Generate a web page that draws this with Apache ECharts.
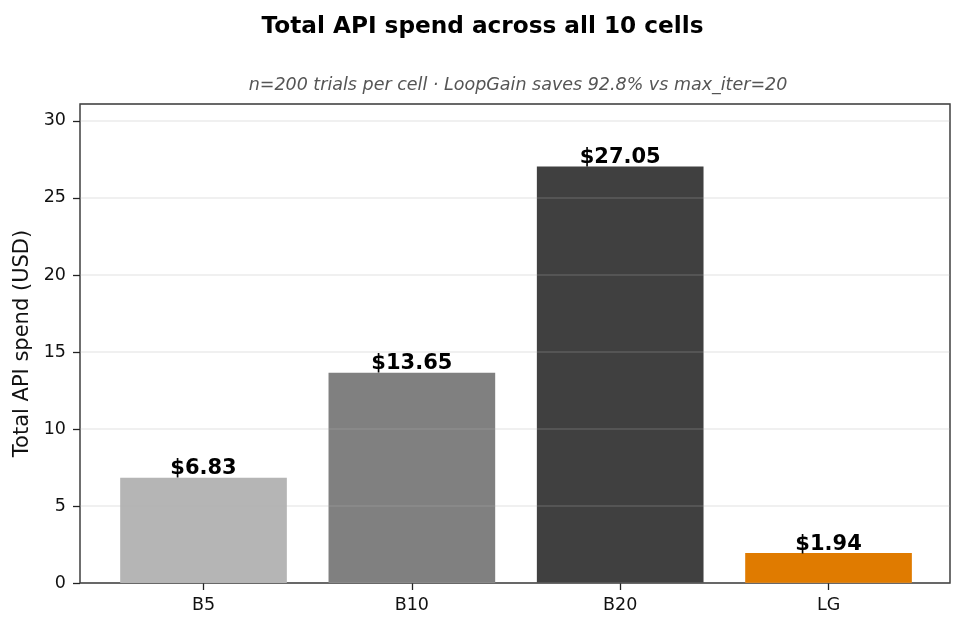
<!DOCTYPE html>
<html>
<head>
<meta charset="utf-8">
<script src="https://cdn.jsdelivr.net/npm/echarts@6/dist/echarts.min.js"></script>
<style>
  html, body { margin: 0; padding: 0; background: #fff; }
  #chart { width: 965px; height: 630px; }
</style>
</head>
<body>
<div id="chart"></div>
<script>
const categories = ["B5", "B10", "B20", "LG"];
const spend = [6.83, 13.65, 27.05, 1.94];
const barColors = ["#b5b5b5", "#808080", "#404040", "#e07b00"];

const font = "DejaVu Sans";
const yMax = 31.1;

const chart = echarts.init(document.getElementById("chart"));

const option = {
  backgroundColor: "#fff",
  animation: false,
  textStyle: { fontFamily: font },
  title: [
    {
      text: "Total API spend across all 10 cells",
      left: "center",
      top: 10,
      textStyle: { fontFamily: font, fontSize: 23.2, fontWeight: "bold", color: "#000" },
    },
    {
      text: "n=200 trials per cell · LoopGain saves 92.8% vs max_iter=20",
      left: 513,
      top: 71,
      textAlign: "center",
      textStyle: { fontFamily: font, fontSize: 17.5, fontStyle: "italic", fontWeight: "normal", color: "#555" },
    },
  ],
  grid: [
    // frame + y ticks
    { left: 80, right: 15, top: 104, bottom: 47, show: true, borderColor: "#222", borderWidth: 1.3, outerBoundsMode: "none" },
    // bars (matplotlib-style margins inside the frame)
    { left: 99.35, right: 32.3, top: 104, bottom: 47, outerBoundsMode: "none" },
  ],
  xAxis: [
    { gridIndex: 0, type: "value", min: 0, max: 1, show: false },
    {
      gridIndex: 1,
      type: "category",
      data: categories,
      axisLine: { show: false },
      axisTick: { show: true, alignWithLabel: true, length: 7, lineStyle: { color: "#222", width: 1.3 } },
      axisLabel: { fontFamily: font, fontSize: 17.5, color: "#111", margin: 13 },
    },
  ],
  yAxis: [
    {
      gridIndex: 0,
      type: "value",
      min: 0,
      max: yMax,
      interval: 5,
      z: 3,
      name: "Total API spend (USD)",
      nameLocation: "middle",
      nameGap: 47,
      nameTextStyle: { fontFamily: font, fontSize: 21, color: "#111" },
      axisLine: { show: false },
      axisTick: { show: true, length: 7, lineStyle: { color: "#222", width: 1.3 } },
      axisLabel: { fontFamily: font, fontSize: 17.5, color: "#111", margin: 14, showMaxLabel: false },
      splitLine: { show: true, lineStyle: { color: "rgba(176,176,176,0.25)", width: 1.5 } },
    },
    { gridIndex: 1, type: "value", min: 0, max: yMax, show: false },
  ],
  series: [
    {
      type: "bar",
      xAxisIndex: 1,
      yAxisIndex: 1,
      barWidth: "80%",
      data: spend.map((v, i) => ({ value: v, itemStyle: { color: barColors[i] } })),
      label: {
        show: true,
        position: "top",
        distance: 0,
        offset: [0, 1.5],
        formatter: (p) => "$" + p.value.toFixed(2),
        fontFamily: font,
        fontSize: 21,
        fontWeight: "bold",
        color: "#000",
      },
    },
  ],
};

chart.setOption(option);
</script>
</body>
</html>
